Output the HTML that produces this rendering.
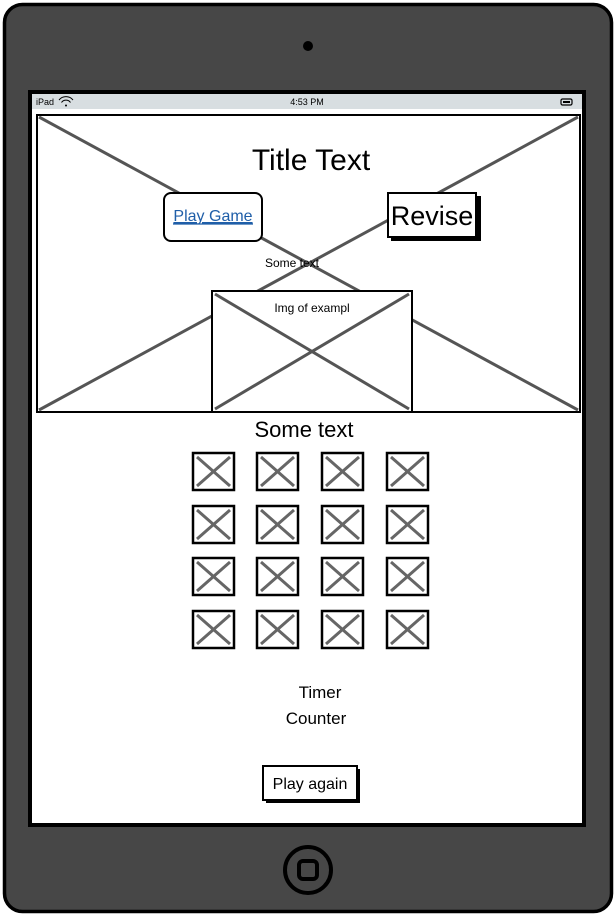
<!DOCTYPE html>
<html><head><meta charset="utf-8"><style>
html,body{margin:0;padding:0;width:616px;height:916px;overflow:hidden;background:#fff}
svg{display:block}
text{font-family:"Liberation Sans",sans-serif}
</style></head><body>
<svg width="616" height="916" viewBox="0 0 616 916" xmlns="http://www.w3.org/2000/svg">
<rect x="4.5" y="4.5" width="607" height="907" rx="18" fill="#474747" stroke="#000" stroke-width="3.5"/>
<circle cx="308" cy="46" r="5" fill="#000"/>
<rect x="28" y="90" width="558" height="737" fill="#000"/>
<rect x="32" y="94" width="550" height="729" fill="#fff"/>
<rect x="32" y="94" width="550" height="15" fill="#d8dee1"/>
<text x="36" y="105" font-size="9">iPad</text>
<path d="M59 100 a9 9 0 0 1 14 0 M61.5 102.5 a5.5 5.5 0 0 1 9 0" fill="none" stroke="#000" stroke-width="1"/>
<circle cx="66" cy="105.5" r="1" fill="#000"/>
<text x="307" y="105" font-size="9" text-anchor="middle">4:53 PM</text>
<rect x="561" y="99" width="11" height="6" rx="1.5" fill="none" stroke="#000" stroke-width="1.2"/>
<rect x="563" y="101" width="7" height="2" fill="#000"/>
<circle cx="308" cy="870" r="23" fill="none" stroke="#000" stroke-width="4"/>
<rect x="299" y="861" width="18" height="18" rx="4" fill="none" stroke="#000" stroke-width="4"/>

<rect x="37" y="115" width="543" height="297" fill="#fff" stroke="#000" stroke-width="2"/>
<line x1="39" y1="117" x2="578" y2="410" stroke="#555" stroke-width="3"/>
<line x1="578" y1="117" x2="39" y2="410" stroke="#555" stroke-width="3"/>
<text x="311" y="170" font-size="30" text-anchor="middle">Title Text</text>
<rect x="164" y="193" width="98" height="48" rx="7" fill="#fff" stroke="#000" stroke-width="2"/>
<text x="213" y="221" font-size="16" text-anchor="middle" fill="#1f5ea8" text-decoration="underline">Play Game</text>
<line x1="173" y1="224" x2="253" y2="224" stroke="#1f5ea8" stroke-width="1.2"/>
<rect x="391" y="196" width="90" height="45" fill="#000"/>
<rect x="388" y="193" width="88" height="44" fill="#fff" stroke="#000" stroke-width="2"/>
<text x="432" y="225" font-size="27" text-anchor="middle">Revise</text>
<text x="292" y="267" font-size="12" text-anchor="middle">Some text</text>
<rect x="212" y="291" width="200" height="121" fill="#fff" stroke="#000" stroke-width="2"/>
<line x1="215" y1="294" x2="409" y2="409" stroke="#555" stroke-width="3"/>
<line x1="409" y1="294" x2="215" y2="409" stroke="#555" stroke-width="3"/>
<text x="312" y="312" font-size="12" text-anchor="middle">Img of exampl</text>
<text x="304" y="437" font-size="22" text-anchor="middle">Some text</text>

<g>
<g id="c">
<rect x="193" y="453" width="41" height="37" fill="#fff" stroke="#000" stroke-width="2.5"/>
<line x1="197" y1="457" x2="230" y2="486" stroke="#666" stroke-width="3"/>
<line x1="230" y1="457" x2="197" y2="486" stroke="#666" stroke-width="3"/>
</g>
<use href="#c" x="64"/><use href="#c" x="129"/><use href="#c" x="194"/>
<use href="#c" y="53"/><use href="#c" x="64" y="53"/><use href="#c" x="129" y="53"/><use href="#c" x="194" y="53"/>
<use href="#c" y="105"/><use href="#c" x="64" y="105"/><use href="#c" x="129" y="105"/><use href="#c" x="194" y="105"/>
<use href="#c" y="158"/><use href="#c" x="64" y="158"/><use href="#c" x="129" y="158"/><use href="#c" x="194" y="158"/>
</g>

<text x="320" y="698" font-size="17" text-anchor="middle">Timer</text>
<text x="316" y="724" font-size="17" text-anchor="middle">Counter</text>
<rect x="266" y="769" width="94" height="34" fill="#000"/>
<rect x="263" y="766" width="94" height="34" fill="#fff" stroke="#000" stroke-width="2"/>
<text x="310" y="789" font-size="16" text-anchor="middle">Play again</text>
</svg>
</body></html>
